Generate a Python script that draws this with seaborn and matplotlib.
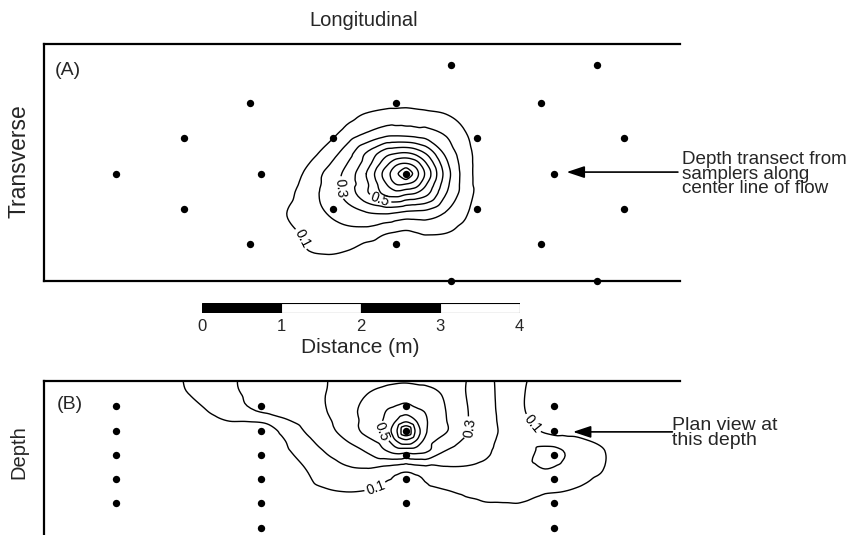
import numpy as np
import pandas as pd
import matplotlib
matplotlib.use("Agg")
import matplotlib.pyplot as plt
import matplotlib.tri as mtri
import seaborn as sns

# sampler positions, plan view (metres along / across the flow)
plan_x = [5.12, 6.96, 2.60, 4.43, 6.26, 1.77, 3.64, 5.45, 7.30, 0.91, 2.74, 4.56, 6.42,
          1.77, 3.64, 5.45, 7.30, 2.60, 4.43, 6.26, 5.12, 6.96]
plan_y = [2.72, 2.72, 2.24, 2.24, 2.24, 1.80, 1.80, 1.80, 1.80, 1.35, 1.35, 1.35, 1.35,
          0.91, 0.91, 0.91, 0.91, 0.46, 0.46, 0.46, 0.00, 0.00]

# depth transect: sampler columns, sampler depths and how many at each column
section_cols = [0.91, 2.74, 4.56, 6.42]
section_depths = [0.31, 0.63, 0.93, 1.23, 1.54, 1.85]
section_counts = [5, 6, 5, 6]

labelled_levels = [0.1, 0.3, 0.5]
other_levels = [0.2, 0.4, 0.6, 0.7, 0.8, 0.9]

# relative concentration (finer spacing round the peak)
plan_grid_x = [2.81, 3.06, 3.31, 3.56, 3.81, 4.06, 4.31, 4.435, 4.56, 4.685, 4.81, 5.06,
               5.31, 5.56, 5.81, 6.06]
plan_grid_y = [0.10, 0.35, 0.60, 0.85, 1.10, 1.225, 1.35, 1.475, 1.60, 1.85, 2.10, 2.35, 2.60]
plan_conc = [
    [0, 0, 0, 0, 0, 0, 0, 0, 0, 0, 0, 0, 0, 0, 0, 0],
    [0, 0.03, 0.09, 0.105, 0.09, 0.035, 0.01, 0.003, 0, 0.005, 0.01, 0, 0, 0, 0, 0],
    [0, 0.065, 0.12, 0.15, 0.17, 0.16, 0.105, 0.09, 0.08, 0.095, 0.11, 0.10, 0.06, 0, 0, 0],
    [0, 0.10, 0.16, 0.20, 0.25, 0.29, 0.305, 0.29, 0.27, 0.265, 0.26, 0.19, 0.11, 0.02, 0, 0],
    [0, 0.065, 0.155, 0.23, 0.33, 0.48, 0.63, 0.655, 0.62, 0.593, 0.53, 0.305, 0.15, 0.04, 0, 0],
    [0, 0.048, 0.138, 0.225, 0.335, 0.48, 0.70, 0.808, 0.806, 0.758, 0.615, 0.34, 0.15, 0.038, 0, 0],
    [0, 0.03, 0.12, 0.22, 0.33, 0.50, 0.75, 0.872, 1.00, 0.838, 0.68, 0.36, 0.15, 0.035, 0, 0],
    [0, 0.015, 0.09, 0.18, 0.295, 0.45, 0.67, 0.777, 0.806, 0.751, 0.61, 0.33, 0.147, 0.036, 0, 0],
    [0, 0, 0.055, 0.14, 0.25, 0.41, 0.57, 0.605, 0.62, 0.58, 0.50, 0.28, 0.14, 0.035, 0, 0],
    [0, 0, 0, 0.055, 0.14, 0.21, 0.27, 0.275, 0.27, 0.26, 0.25, 0.19, 0.105, 0.015, 0, 0],
    [0, 0, 0, 0, 0.06, 0.105, 0.13, 0.133, 0.135, 0.128, 0.12, 0.10, 0.06, 0, 0, 0],
    [0, 0, 0, 0, 0, 0.01, 0.03, 0.035, 0.04, 0.035, 0.03, 0.01, 0, 0, 0, 0],
    [0, 0, 0, 0, 0, 0, 0, 0, 0, 0, 0, 0, 0, 0, 0, 0],
]

# relative concentration along the centre-line depth transect
sect_grid_x = [1.31, 1.56, 1.81, 2.06, 2.31, 2.56, 2.81, 3.06, 3.31, 3.56, 3.81, 4.06, 4.31,
               4.435, 4.56, 4.685, 4.81, 5.06, 5.31, 5.56, 5.81, 6.06, 6.31, 6.56, 6.81,
               7.06, 7.31]
sect_grid_z = [-0.125, 0.125, 0.375, 0.5, 0.625, 0.75, 0.875, 1.125, 1.375, 1.625, 1.875]
sect_conc = [
    [0, 0.09, 0.126, 0.156, 0.186, 0.212, 0.234, 0.255, 0.277, 0.299, 0.314, 0.33, 0.35,
     0.357, 0.36, 0.355, 0.35, 0.33, 0.30, 0.228, 0.168, 0.114, 0.04, 0, 0, 0, 0],
    [0, 0.028, 0.104, 0.142, 0.18, 0.211, 0.233, 0.256, 0.279, 0.30, 0.346, 0.39, 0.42,
     0.428, 0.43, 0.425, 0.42, 0.38, 0.30, 0.232, 0.165, 0.10, 0.02, 0, 0, 0, 0],
    [0, 0, 0.024, 0.10, 0.144, 0.185, 0.218, 0.245, 0.272, 0.299, 0.363, 0.43, 0.50,
     0.53, 0.56, 0.52, 0.49, 0.40, 0.31, 0.237, 0.167, 0.10, 0.02, 0, 0, 0, 0],
    [0, 0, 0.012, 0.065, 0.10, 0.105, 0.12, 0.19, 0.24, 0.285, 0.352, 0.43, 0.52,
     0.60, 0.68, 0.60, 0.51, 0.405, 0.312, 0.238, 0.173, 0.117, 0.055, 0.04, 0.035, 0.025, 0],
    [0, 0, 0, 0.03, 0.06, 0.06, 0.07, 0.133, 0.211, 0.269, 0.341, 0.43, 0.54,
     0.68, 0.88, 0.68, 0.51, 0.41, 0.315, 0.24, 0.179, 0.133, 0.09, 0.085, 0.07, 0.05, 0],
    [0, 0, 0, 0.015, 0.03, 0.03, 0.05, 0.105, 0.18, 0.24, 0.30, 0.37, 0.47,
     0.60, 0.68, 0.60, 0.465, 0.355, 0.286, 0.228, 0.175, 0.144, 0.14, 0.12, 0.105, 0.075, 0.01],
    [0, 0, 0, 0, 0, 0, 0.02, 0.09, 0.147, 0.21, 0.257, 0.31, 0.40,
     0.45, 0.45, 0.45, 0.42, 0.30, 0.257, 0.215, 0.17, 0.155, 0.235, 0.195, 0.14, 0.10, 0.02],
    [0, 0, 0, 0, 0, 0, 0, 0.02, 0.10, 0.15, 0.18, 0.186, 0.15,
     0.13, 0.113, 0.13, 0.15, 0.18, 0.184, 0.174, 0.16, 0.165, 0.195, 0.17, 0.13, 0.095, 0.02],
    [0, 0, 0, 0, 0, 0, 0, 0, 0.07, 0.095, 0.105, 0.10, 0.08,
     0.075, 0.07, 0.075, 0.08, 0.098, 0.12, 0.125, 0.125, 0.12, 0.11, 0.103, 0.08, 0.05, 0],
    [0, 0, 0, 0, 0, 0, 0, 0, 0.02, 0.04, 0.05, 0.04, 0.02,
     0.01, 0, 0.01, 0.02, 0.02, 0.06, 0.08, 0.08, 0.08, 0.05, 0.03, 0.01, 0, 0],
    [0, 0, 0, 0, 0, 0, 0, 0, 0, 0, 0, 0, 0,
     0, 0, 0, 0, 0, 0, 0, 0, 0, 0, 0, 0, 0, 0],
]

scale_ticks = [0, 1, 2, 3, 4]
scale_colors = ["black", "white", "black", "white"]

sns.set_style("white")
plt.rcParams["font.family"] = ["Liberation Sans", "DejaVu Sans"]


def smooth_contours(ax, gx, gy, conc, label_at):
    # smooth contours through the gridded readings
    xx, yy = np.meshgrid(gx, gy)
    tri = mtri.Triangulation(xx.ravel(), yy.ravel())
    z = np.asarray(conc, dtype=float).ravel()
    interp = mtri.CubicTriInterpolator(tri, z, kind="geom")
    refiner = mtri.UniformTriRefiner(tri)
    tri_f, z_f = refiner.refine_field(z, triinterpolator=interp, subdiv=3)
    ax.tricontour(tri_f, z_f, levels=other_levels, colors="black", linewidths=1.0)
    cs = ax.tricontour(tri_f, z_f, levels=labelled_levels, colors="black", linewidths=1.0)
    ax.clabel(cs, fmt="%.1f", fontsize=10, inline=True, inline_spacing=2, manual=label_at)


W, H = 861, 535
fig = plt.figure(figsize=(W / 100, H / 100), dpi=100)
px = 79.5  # pixels per metre

# ---- (A) plan view
axA = fig.add_axes([43.5 / W, (H - 281) / H, 8 * px / W, 2.98 * px / H])
axA.set_xlim(0, 8)
axA.set_ylim(0, 2.98)
smooth_contours(axA, plan_grid_x, plan_grid_y, plan_conc,
                [(3.23, 0.52), (3.77, 1.17), (4.27, 1.11)])
sns.scatterplot(x=plan_x, y=plan_y, ax=axA, color="black", s=28, linewidth=0, clip_on=False)
axA.set_xlim(0, 8)
axA.set_ylim(0, 2.98)
axA.text(0.14, 2.65, "(A)", fontsize=14, va="center", ha="left")
axA.set_xticks([])
axA.set_yticks([])
axA.set_ylabel("")
for side in ["top", "bottom", "left"]:
    axA.spines[side].set_color("black")
    axA.spines[side].set_linewidth(1.6)
axA.spines["right"].set_visible(False)
axA.annotate("", xy=(6.58, 1.37), xytext=(7.98, 1.37),
             arrowprops=dict(arrowstyle="-|>,head_length=0.9,head_width=0.3", color="black",
                             lw=1.2, mutation_scale=12, shrinkA=0, shrinkB=0),
             annotation_clip=False)

fig.text(364 / W, 1 - 20 / H, "Longitudinal", fontsize=14.5, ha="center", va="center")
fig.text(19 / W, 1 - 161 / H, "Transverse", fontsize=16.5, ha="center", va="center", rotation=90)
fig.text(19 / W, 1 - 452 / H, "Depth", fontsize=14.5, ha="center", va="center", rotation=90)

# ---- scale bar
axS = fig.add_axes([201.7 / W, (H - 313) / H, 4 * px / W, 10 / H])
axS.bar(scale_ticks[:-1], [1] * 4, width=1, align="edge", color=scale_colors,
        edgecolor="black", linewidth=0.8)
axS.set_xlim(0, 4)
axS.set_ylim(0, 1)
axS.set_yticks([])
axS.set_xticks(scale_ticks)
axS.set_xticklabels([str(t) for t in scale_ticks], fontsize=12)
axS.tick_params(axis="x", length=0, pad=4)
axS.set_xlabel("Distance (m)", fontsize=15, labelpad=3)
for s in axS.spines.values():
    s.set_visible(False)

# ---- (B) depth transect
axB = fig.add_axes([43.5 / W, 0, 8 * px / W, 154 / H])
axB.set_xlim(0, 8)
axB.set_ylim(154 / px, 0)
smooth_contours(axB, sect_grid_x, sect_grid_z, sect_conc,
                [(4.17, 1.32), (5.36, 0.59), (4.23, 0.65), (6.16, 0.53)])
sect = pd.DataFrame({
    "x": np.repeat(section_cols, section_counts),
    "z": [d for n in section_counts for d in section_depths[:n]],
})
sns.scatterplot(data=sect, x="x", y="z", ax=axB, color="black", s=28, linewidth=0)
axB.set_xlim(0, 8)
axB.set_ylim(154 / px, 0)
axB.text(0.17, 0.30, "(B)", fontsize=14, va="center", ha="left")
axB.set_xticks([])
axB.set_yticks([])
axB.set_xlabel("")
axB.set_ylabel("")
for side in ["top", "left"]:
    axB.spines[side].set_color("black")
    axB.spines[side].set_linewidth(1.6)
axB.spines["right"].set_visible(False)
axB.spines["bottom"].set_visible(False)
axB.annotate("", xy=(6.66, 0.64), xytext=(7.91, 0.64),
             arrowprops=dict(arrowstyle="-|>,head_length=0.9,head_width=0.3", color="black",
                             lw=1.2, mutation_scale=12, shrinkA=0, shrinkB=0),
             annotation_clip=False)

# ---- side notes
fig.text(682 / W, 1 - 151 / H, "Depth transect from\nsamplers along\ncenter line of flow",
         fontsize=13.6, va="top", ha="left", linespacing=0.82)
fig.text(672 / W, 1 - 417 / H, "Plan view at\nthis depth",
         fontsize=14, va="top", ha="left", linespacing=0.88)

fig.savefig("out.png", dpi=100)
